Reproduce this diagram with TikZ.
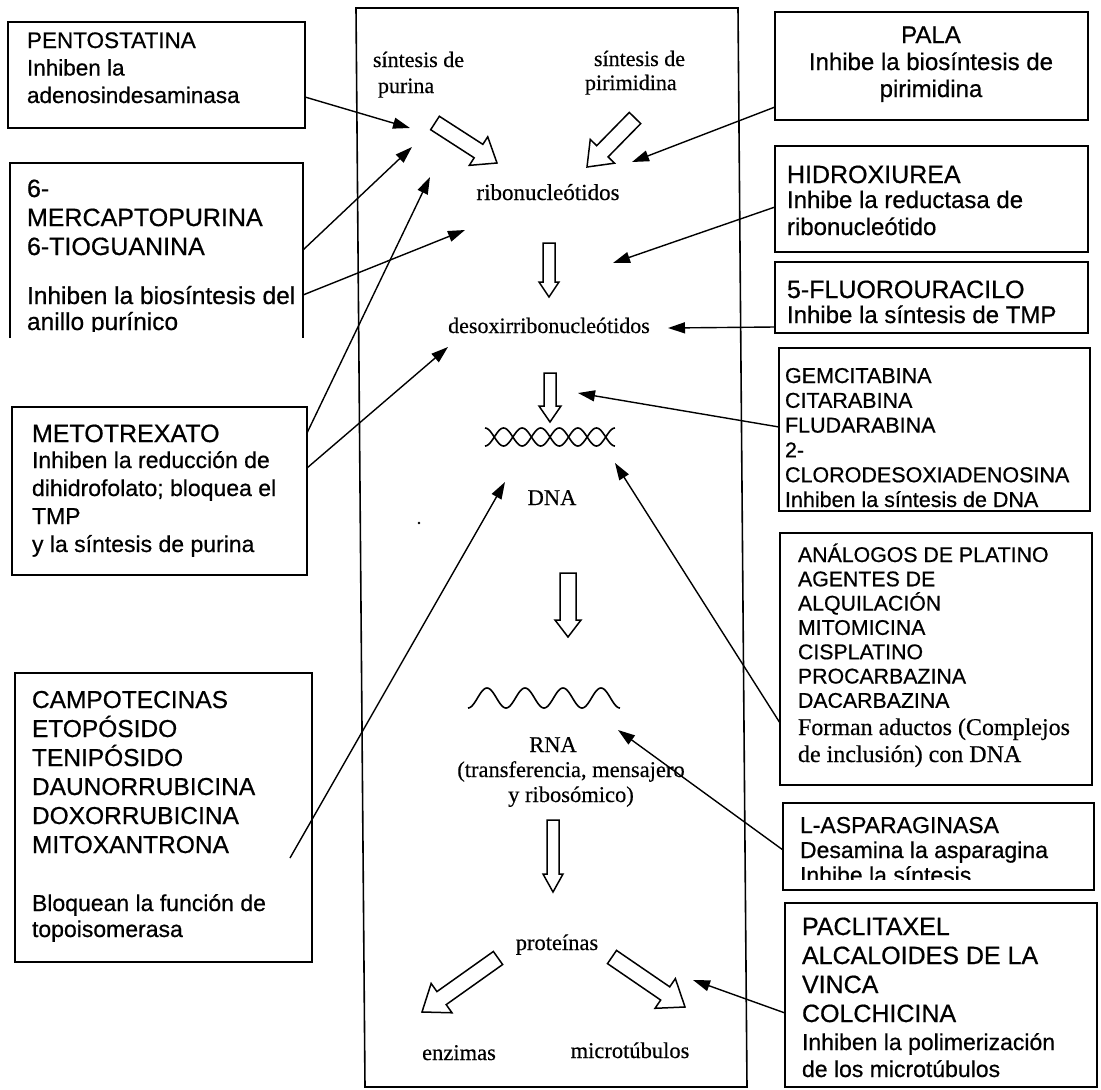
\documentclass[tikz,border=0pt]{standalone}
\usepackage{fontspec}
\setmainfont{Liberation Serif}[FakeBold=0.4]
\newfontfamily\arialf{Liberation Sans}[FakeBold=0.6]
\usetikzlibrary{arrows.meta,calc}
% hollow block arrow: #1 tail coordinate, #2 tip coordinate, #3 half shaft width, #4 half head width, #5 head length
\newcommand\hollowarrow[5]{%
  \coordinate (ha) at ($(#2)!#5!(#1)$);
  \draw[hol] ($(#1)!#3!90:(#2)$) -- ($(ha)!#3!-90:(#1)$) -- ($(ha)!#4!-90:(#1)$) -- (#2)
     -- ($(ha)!#4!90:(#1)$) -- ($(ha)!#3!90:(#1)$) -- ($(#1)!#3!-90:(#2)$) -- cycle;}
\begin{document}
\begin{tikzpicture}[x=1pt,y=-1pt,
  box/.style={draw, line width=1.6pt, inner sep=0pt, outer sep=0pt, anchor=north west},
  frame/.style={line width=1.6pt},
  conn/.style={line width=1.4pt, -{Triangle[length=17pt,width=11pt]}},
  hol/.style={line width=1.5pt, fill=white, line join=miter},
  txt/.style={anchor=base west, inner sep=0pt, outer sep=0pt},
  ctr/.style={anchor=base, inner sep=0pt, outer sep=0pt},
]
\useasboundingbox (0,0) rectangle (1101,1090);
\fill[white] (0,0) rectangle (1101,1090);

% ---------- central frame ----------
\coordinate (fa) at (356,8);
\coordinate (fb) at (738,8);
\coordinate (fc) at (747,1087);
\coordinate (fd) at (365,1087);
\draw[frame] (fa) -- (fb) -- (fc) -- (fd) -- cycle;

% ---------- boxes ----------
\node[box, minimum width=297pt, minimum height=106pt] (pento) at (8,22) {};
\node[inner sep=0pt, outer sep=0pt, anchor=north west, minimum width=293pt, minimum height=175pt] (merc) at (10,163) {};
\draw[frame] (merc.south west) -- (merc.north west) -- (merc.north east) -- (merc.south east);
\node[box, minimum width=295pt, minimum height=168pt] (meto) at (12,407) {};
\node[box, minimum width=297pt, minimum height=289pt] (campo) at (15,673) {};
\node[box, minimum width=313pt, minimum height=108pt] (pala) at (775,12) {};
\node[box, minimum width=313pt, minimum height=106pt] (hidro) at (775,146) {};
\node[box, minimum width=313pt, minimum height=71pt] (fluoro) at (775,262) {};
\node[box, minimum width=311pt, minimum height=163pt] (gemci) at (779,348) {};
\node[box, minimum width=312pt, minimum height=252pt] (analog) at (780,533) {};
\node[box, minimum width=311pt, minimum height=87pt] (aspar) at (783,803) {};
\node[box, minimum width=312pt, minimum height=184pt] (pacli) at (785,903) {};

% ---------- box texts ----------
\node[txt, font=\arialf\fontsize{22.5}{27.5}\selectfont] (pentoT) at (27,48)
  {\parbox[t]{275pt}{PENTOSTATINA\\Inhiben la\\adenosindesaminasa}};
\node[txt, font=\arialf\fontsize{25}{29}\selectfont] (mercT) at (27,197)
  {\parbox[t]{275pt}{6-\\MERCAPTOPURINA\\6-TIOGUANINA}};
\begin{scope}
  \clip (10,163) rectangle (303,331);
  \node[txt, font=\arialf\fontsize{24.5}{26}\selectfont] (mercU) at (27,304)
    {\parbox[t]{275pt}{Inhiben la biosíntesis del\\anillo purínico}};
\end{scope}
\node[txt, font=\arialf\fontsize{25}{29}\selectfont] (metoT) at (32,442) {METOTREXATO};
\node[txt, font=\arialf\fontsize{23}{28}\selectfont] (metoU) at (32,468)
  {\parbox[t]{275pt}{Inhiben la reducción de\\dihidrofolato; bloquea el\\TMP\\y la síntesis de purina}};
\node[txt, font=\arialf\fontsize{24.5}{29}\selectfont] (campoT) at (32,708)
  {\parbox[t]{275pt}{CAMPOTECINAS\\ETOPÓSIDO\\TENIPÓSIDO\\DAUNORRUBICINA\\DOXORRUBICINA\\MITOXANTRONA}};
\node[txt, font=\arialf\fontsize{23}{26}\selectfont] (campoU) at (32,911)
  {\parbox[t]{275pt}{Bloquean la función de\\topoisomerasa}};

\node[ctr, font=\arialf\fontsize{24}{27}\selectfont] (palaT) at (931,43)
  {\parbox[t]{300pt}{\centering PALA\\Inhibe la biosíntesis de\\pirimidina}};
\node[txt, font=\arialf\fontsize{25}{29}\selectfont] (hidroT) at (787,183) {HIDROXIUREA};
\node[txt, font=\arialf\fontsize{24}{27}\selectfont] (hidroU) at (787,208)
  {\parbox[t]{290pt}{Inhibe la reductasa de\\ribonucleótido}};
\node[txt, font=\arialf\fontsize{25}{29}\selectfont] (fluoroT) at (787,298) {5-FLUOROURACILO};
\node[txt, font=\arialf\fontsize{24}{28}\selectfont] (fluoroU) at (787,323) {Inhibe la síntesis de TMP};
\node[txt, font=\arialf\fontsize{21.5}{24.8}\selectfont] (gemciT) at (785,383)
  {\parbox[t]{300pt}{GEMCITABINA\\CITARABINA\\FLUDARABINA\\2-\\CLORODESOXIADENOSINA\\Inhiben la síntesis de DNA}};
\node[txt, font=\arialf\fontsize{21.3}{24.3}\selectfont] (analogT) at (798,562)
  {\parbox[t]{290pt}{ANÁLOGOS DE PLATINO\\AGENTES DE\\ALQUILACIÓN\\MITOMICINA\\CISPLATINO\\PROCARBAZINA\\DACARBAZINA}};
\node[txt, font=\fontsize{24}{27}\selectfont] (analogU) at (798,735)
  {\parbox[t]{290pt}{Forman aductos (Complejos\\de inclusión) con DNA}};
\begin{scope}
  \clip (783,803) rectangle (1094,879);
  \node[txt, font=\arialf\fontsize{23}{25}\selectfont] (asparT) at (800,833)
    {\parbox[t]{290pt}{L-ASPARAGINASA\\Desamina la asparagina\\Inhibe la síntesis}};
\end{scope}
\node[txt, font=\arialf\fontsize{25}{29}\selectfont] (pacliT) at (802,935)
  {\parbox[t]{290pt}{PACLITAXEL\\ALCALOIDES DE LA\\VINCA\\COLCHICINA}};
\node[txt, font=\arialf\fontsize{23}{27}\selectfont] (pacliU) at (802,1050)
  {\parbox[t]{290pt}{Inhiben la polimerización\\de los microtúbulos}};

% ---------- central texts ----------
\node[txt, font=\fontsize{22}{26}\selectfont] (purT) at (373,67)
  {\parbox[t]{120pt}{síntesis de\\\hspace*{5pt}purina}};
\node[txt, font=\fontsize{22}{24}\selectfont] (pirT) at (585,66)
  {\parbox[t]{120pt}{\hspace*{9pt}síntesis de\\pirimidina}};
\node[ctr, font=\fontsize{23}{27}\selectfont] (ribo) at (548,200) {ribonucleótidos};
\node[ctr, font=\fontsize{22}{27}\selectfont] (desoxi) at (549,333) {desoxirribonucleótidos};
\node[ctr, font=\fontsize{22.5}{27}\selectfont] (dna) at (552,505) {DNA};
\node[ctr, font=\fontsize{22.5}{27}\selectfont] (rna) at (553,752) {RNA};
\node[ctr, font=\fontsize{22.5}{25}\selectfont] (rnaU) at (571,777)
  {\parbox[t]{260pt}{\centering (transferencia, mensajero\\y ribosómico)}};
\node[ctr, font=\fontsize{22.5}{27}\selectfont] (prot) at (557,950) {proteínas};
\node[ctr, font=\fontsize{22.5}{27}\selectfont] (enz) at (459,1060) {enzimas};
\node[ctr, font=\fontsize{22.5}{27}\selectfont] (micro) at (630,1058) {microtúbulos};

% DNA double helix
\draw[line width=1.6pt] plot[domain=0:7, samples=141, smooth] ({485+18.57*\x},{437+9*cos(180*\x)});
\draw[line width=1.6pt] plot[domain=0:7, samples=141, smooth] ({485+18.57*\x},{437-9*cos(180*\x)});
% RNA strand
\draw[line width=1.6pt] plot[domain=0:4, samples=161, smooth] ({468+38*\x},{698+10*cos(360*\x)});
% speck
\fill (419,523) circle (1.3pt);

% ---------- hollow block arrows ----------
\coordinate (b1s) at (435,123); \coordinate (b1e) at (497,163);
\hollowarrow{b1s}{b1e}{8pt}{17pt}{22pt}
\coordinate (b2s) at (635,118); \coordinate (b2e) at (587,167);
\hollowarrow{b2s}{b2e}{8pt}{17pt}{22pt}
\coordinate (a1s) at (549,243); \coordinate (a1e) at (549,297);
\hollowarrow{a1s}{a1e}{6pt}{10pt}{15pt}
\coordinate (a2s) at (550,373); \coordinate (a2e) at (550,422);
\hollowarrow{a2s}{a2e}{6pt}{11pt}{16pt}
\coordinate (a3s) at (568,573); \coordinate (a3e) at (568,637);
\hollowarrow{a3s}{a3e}{8pt}{13pt}{17pt}
\coordinate (a4s) at (553,820); \coordinate (a4e) at (553,892);
\hollowarrow{a4s}{a4e}{6pt}{10pt}{18pt}
\coordinate (b3s) at (498,958); \coordinate (b3e) at (422,1012);
\hollowarrow{b3s}{b3e}{8pt}{18pt}{24pt}
\coordinate (b4s) at (612,957); \coordinate (b4e) at (685,1007);
\hollowarrow{b4s}{b4e}{8pt}{18pt}{24pt}

% ---------- inhibitor connectors ----------
\coordinate (t1) at (410,128);
\coordinate (t2) at (412,147);
\coordinate (t3) at (465,230);
\coordinate (t4) at (430,177);
\coordinate (t5) at (448,347);
\coordinate (c6) at (290,858);
\coordinate (t6) at (505,482);
\coordinate (t7) at (632,162);
\coordinate (t8) at (613,263);
\coordinate (t9) at (668,328);
\coordinate (t10) at (578,393);
\coordinate (t11) at (615,463);
\coordinate (t12) at (618,730);
\coordinate (t13) at (693,980);

\draw[conn] (pento.east |- 0,97) -- (t1);
\draw[conn] (merc.east |- 0,250) -- (t2);
\draw[conn] (merc.east |- 0,295) -- (t3);
\draw[conn] (meto.east |- 0,433) -- (t4);
\draw[conn] (meto.east |- 0,468) -- (t5);
\draw[conn] (c6) -- (t6);
\draw[conn] (pala.west |- 0,107) -- (t7);
\draw[conn] (hidro.west |- 0,207) -- (t8);
\draw[conn] (fluoro.west |- 0,327) -- (t9);
\draw[conn] (gemci.west |- 0,427) -- (t10);
\draw[conn] (analog.west |- 0,723) -- (t11);
\draw[conn] (aspar.west |- 0,850) -- (t12);
\draw[conn] (pacli.west |- 0,1013) -- (t13);
\end{tikzpicture}
\end{document}
